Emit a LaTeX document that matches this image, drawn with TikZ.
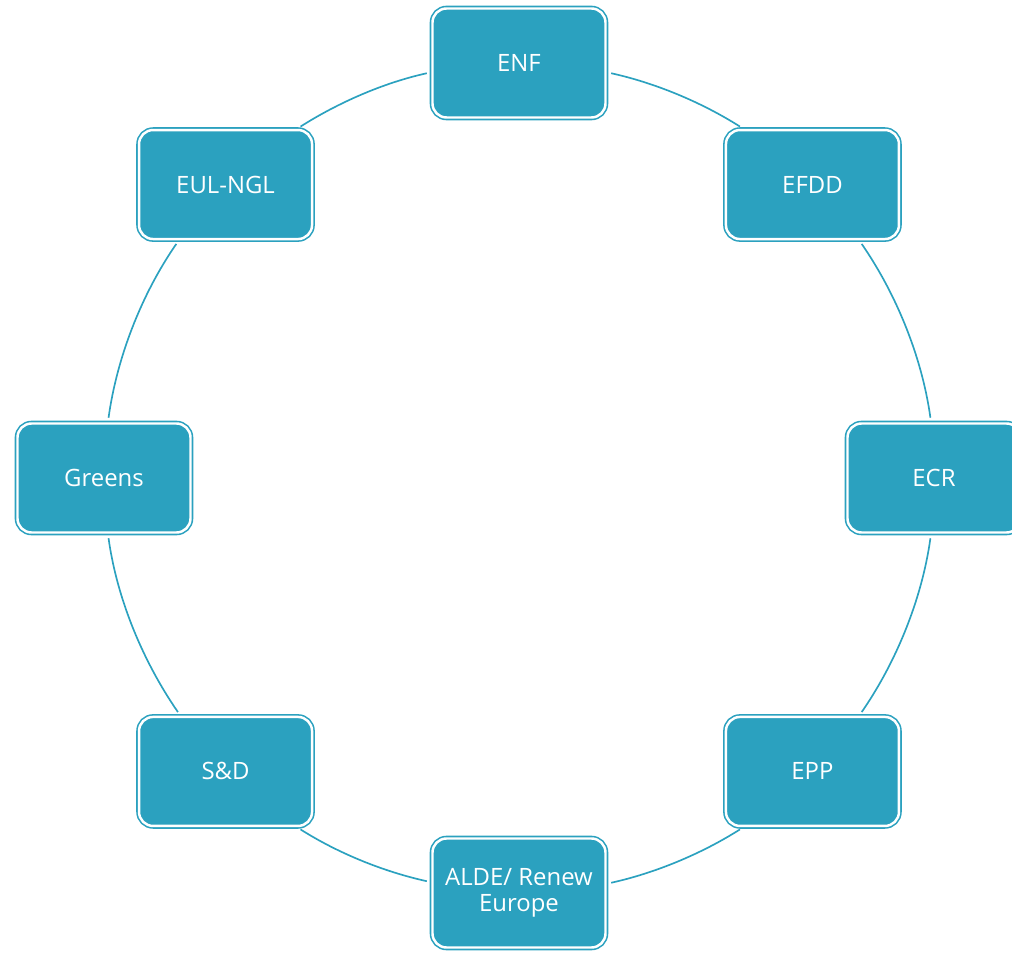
\documentclass[tikz,border=0pt]{standalone}
\usepackage{fontspec}
\setmainfont{Open Sans}
\definecolor{groupteal}{RGB}{43,161,191}

\begin{document}
\begin{tikzpicture}[font=\fontsize{13.6}{15}\selectfont]
  \tikzset{
    group_box/.style={
      rounded corners=8pt, draw=groupteal, fill=groupteal, line width=0.9pt,
      double=white, double distance=1.4pt, text=white, align=center,
      minimum width=3.46cm, minimum height=2.18cm, inner sep=2pt
    },
    ring_arc/.style={draw=groupteal, line width=0.95pt, looseness=0.86,
      shorten <=0.1cm, shorten >=0.1cm}
  }

  % keep the page the size of the reference
  \useasboundingbox (-10.38,-9.5) rectangle (9.86,9.56);

  % the eight groups round the ring, clockwise from the top
  \foreach \name/\txt [count=\i] in {ENF/ENF, EFDD/EFDD, ECR/ECR, EPP/EPP,
      ALDE/{ALDE/ Renew\\Europe}, SD/S\&D, Greens/Greens, EUL/EUL-NGL} {
    \pgfmathsetmacro{\ang}{135-45*\i}
    \node[group_box] (\name) at (\ang:8.3) {\txt};
  }

  % arcs of the ring between neighbouring boxes
  \foreach \a/\aa/\b/\bb/\o/\n in {
      ENF/-6.2/EFDD/141.2/-12.4/147.6,
      EFDD/-50.1/ECR/93.9/-55.3/97.9,
      ECR/-93.9/EPP/50.1/-97.9/55.3,
      EPP/-141.2/ALDE/6.2/-147.6/12.4,
      ALDE/173.8/SD/-38.8/167.6/-32.4,
      SD/129.9/Greens/-86.1/124.7/-82.1,
      Greens/86.1/EUL/230.1/82.1/235.3,
      EUL/38.8/ENF/186.2/32.4/192.4} {
    \draw[ring_arc] (\a.\aa) to[out=\o, in=\n] (\b.\bb);
  }

\end{tikzpicture}
\end{document}
